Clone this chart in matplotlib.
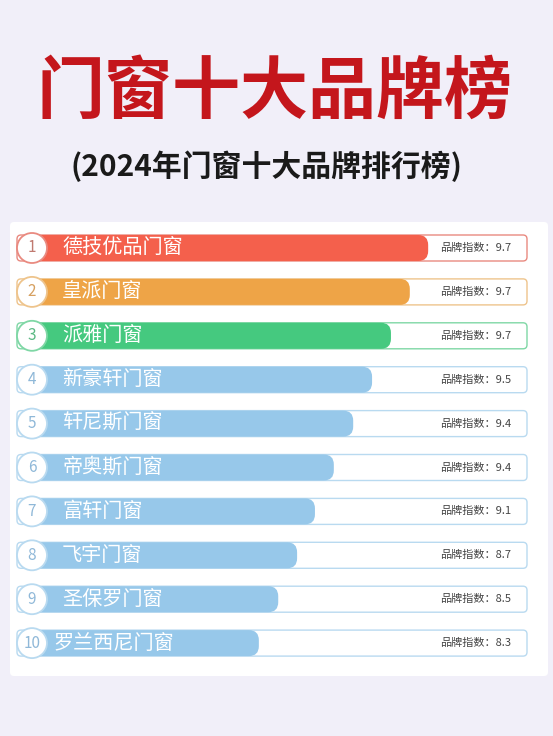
import matplotlib.pyplot as plt
from matplotlib.patches import FancyBboxPatch, Circle

plt.rcParams['font.family'] = ['Noto Sans CJK SC', 'DejaVu Sans']

ranks = list(range(1, 11))
brands = ["德技优品门窗", "皇派门窗", "派雅门窗", "新豪轩门窗", "轩尼斯门窗",
          "帝奥斯门窗", "富轩门窗", "飞宇门窗", "圣保罗门窗", "罗兰西尼门窗"]
scores = [9.7, 9.7, 9.7, 9.5, 9.4, 9.4, 9.1, 8.7, 8.5, 8.3]
# decorative bar lengths (fraction of track), as drawn in the picture
bar_frac = [0.767, 0.731, 0.694, 0.657, 0.620, 0.582, 0.545, 0.510, 0.473, 0.435]
colors = ["#f4604c", "#eea447", "#45c97f"] + ["#97c8ea"] * 7
edge_colors = ["#e98a80", "#eec48c", "#7fd7a5"] + ["#b9daf0"] * 7
num_colors = ["#c07a70", "#d6a060", "#5ab883"] + ["#8fb8d8"] * 7

fig = plt.figure(figsize=(5.53, 7.36), dpi=100)
fig.patch.set_facecolor("#f1eff9")
ax = fig.add_axes([0, 0, 1, 1])
ax.set_xlim(0, 553)
ax.set_ylim(736, 0)
ax.axis("off")

ax.add_patch(FancyBboxPatch((10, 222), 538, 454, boxstyle="round,pad=0,rounding_size=4",
                            fc="white", ec="none"))

ax.text(275, 93, "门窗十大品牌榜", color="#c4161c", fontsize=49, fontweight="heavy",
        ha="center", va="center")
ax.text(266, 166, "(2024年门窗十大品牌排行榜)", color="#1a1a1a", fontsize=21.5,
        fontweight="bold", ha="center", va="center")

x0, x1 = 17, 527
h = 26
for i, r in enumerate(ranks):
    yc = 248 + i * 43.9
    ax.add_patch(FancyBboxPatch((x0, yc - h / 2), x1 - x0, h,
                                boxstyle="round,pad=0,rounding_size=4",
                                fc="white", ec=edge_colors[i], lw=1))
    w = (x1 - x0) * bar_frac[i] + 8
    ax.add_patch(FancyBboxPatch((x0 + 12, yc - h / 2), w, h,
                                boxstyle="round,pad=0,rounding_size=10",
                                fc=colors[i], ec="none"))
    ax.add_patch(Circle((32, yc), 15, fc="white", ec=edge_colors[i], lw=1.3, zorder=3))
    ax.text(32, yc, str(r), color=num_colors[i], fontsize=11, ha="center", va="center", zorder=4)
    ax.text(62 if r < 10 else 53, yc, brands[i], color="white", fontsize=14.5,
            ha="left", va="center")
    ax.text(476, yc, f"品牌指数：{scores[i]}", color="#444444", fontsize=8,
            ha="center", va="center")

fig.savefig("out.png", dpi=100, facecolor=fig.get_facecolor())
